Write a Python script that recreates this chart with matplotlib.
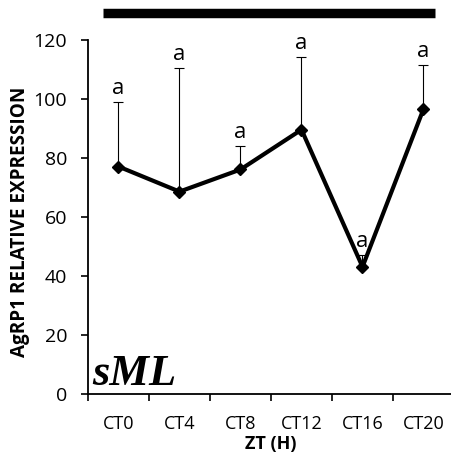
import matplotlib
matplotlib.use("Agg")
import matplotlib.pyplot as plt

categories = ["CT0", "CT4", "CT8", "CT12", "CT16", "CT20"]
values = [77, 68.5, 76, 89.5, 43, 96.5]
err_up = [22, 42, 8, 24.5, 4, 15]
letters = ["a", "a", "a", "a", "a", "a"]
yticks = [0, 20, 40, 60, 80, 100, 120]

plt.rcParams['font.family'] = ['Open Sans', 'DejaVu Sans']

W, H = 452, 465
fig = plt.figure(figsize=(W / 100, H / 100), dpi=100)
left = 88 / W
bottom = (H - 393.7) / H
top = (H - 39.7) / H
right = 454 / W
ax = fig.add_axes([left, bottom, right - left, top - bottom])

x = [i + 0.5 for i in range(len(categories))]
ax.errorbar(x, values, yerr=[[0] * len(values), err_up], fmt='none',
            ecolor='black', elinewidth=0.8, capsize=3.5, capthick=0.8, zorder=2)
ax.plot(x, values, color='black', lw=3, marker='D', markersize=6.5, zorder=3)

for xi, v, e, t in zip(x, values, err_up, letters):
    ax.text(xi, v + e + 1.0, t, ha='center', va='bottom', fontsize=16)

ax.set_xlim(0, 6)
ax.set_ylim(0, 120)
ax.set_xticks(range(0, 7))
ax.set_xticklabels([])
ax.set_xticks(x, minor=True)
ax.set_xticklabels(categories, minor=True, fontsize=13)
ax.tick_params(axis='x', which='minor', length=0, pad=15)
ax.tick_params(axis='x', which='major', length=5, width=1.2, direction='out')
ax.set_yticks(yticks)
ax.set_yticklabels([str(t) for t in yticks], fontsize=14)
ax.tick_params(axis='y', length=5, width=1.2, direction='out', pad=10)

for s in ['top', 'right']:
    ax.spines[s].set_visible(False)
for s in ['left', 'bottom']:
    ax.spines[s].set_linewidth(1.3)

ax.set_xlabel("ZT (H)", fontsize=13, fontweight='bold')
ax.xaxis.set_label_coords(0.5, -0.118)
ax.set_ylabel("AgRP1 RELATIVE EXPRESSION", fontsize=13.6, fontweight='bold')
ax.yaxis.set_label_coords(-0.158, 0.485)

# top black bar
ax.plot([0.25, 5.69], [128.9, 128.9], color='black', lw=6.8,
        solid_capstyle='butt', clip_on=False)

ax.text(0.07, 3.0, "sML", fontsize=32, fontweight='bold', fontstyle='italic',
        family='Liberation Serif', ha='left', va='baseline')

fig.savefig("out.png", dpi=100)
